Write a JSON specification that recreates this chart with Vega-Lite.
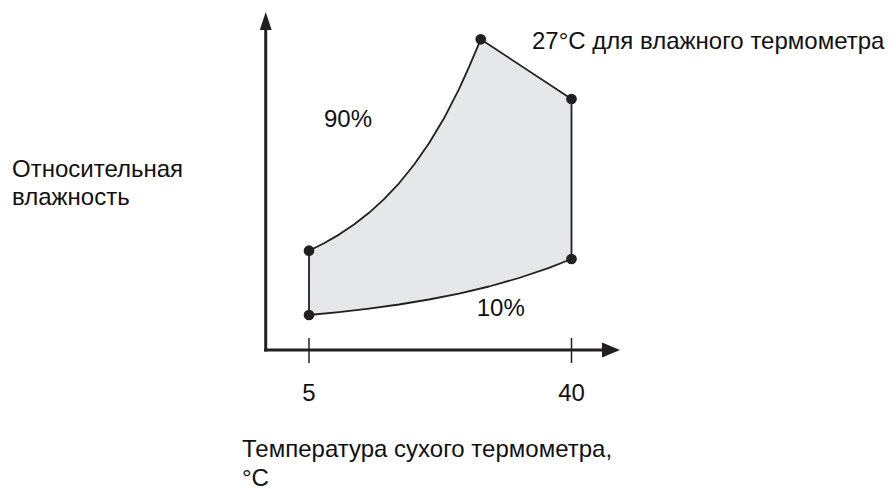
{
  "$schema": "https://vega.github.io/schema/vega-lite/v6.json",
  "width": 360,
  "height": 340,
  "autosize": {"type": "none"},
  "padding": {"left": 264, "top": 10, "right": 272, "bottom": 139},
  "background": "white",
  "config": {"view": {"stroke": null}, "text": {"font": "Liberation Sans", "fontSize": 24, "color": "#111111"}},
  "datasets": {
    "zone": [
      {"i": 0, "t": 5, "w": 3.5},
      {"i": 1, "t": 5, "w": 9.93},
      {"i": 2, "t": 7, "w": 10.67},
      {"i": 3, "t": 9, "w": 11.54},
      {"i": 4, "t": 11, "w": 12.55},
      {"i": 5, "t": 13, "w": 13.72},
      {"i": 6, "t": 15, "w": 15.09},
      {"i": 7, "t": 17, "w": 16.67},
      {"i": 8, "t": 19, "w": 18.52},
      {"i": 9, "t": 21, "w": 20.67},
      {"i": 10, "t": 23, "w": 23.17},
      {"i": 11, "t": 25, "w": 26.08},
      {"i": 12, "t": 26.33, "w": 28.28},
      {"i": 13, "t": 27.9, "w": 31.07},
      {"i": 14, "t": 40, "w": 25.1},
      {"i": 15, "t": 40, "w": 9.1},
      {"i": 16, "t": 37, "w": 8.22},
      {"i": 17, "t": 33, "w": 7.2},
      {"i": 18, "t": 29, "w": 6.35},
      {"i": 19, "t": 25, "w": 5.64},
      {"i": 20, "t": 21, "w": 5.05},
      {"i": 21, "t": 17, "w": 4.55},
      {"i": 22, "t": 13, "w": 4.14},
      {"i": 23, "t": 9, "w": 3.79},
      {"i": 24, "t": 5, "w": 3.5}
    ],
    "dots": [
      {"t": 5, "w": 3.5},
      {"t": 5, "w": 9.93},
      {"t": 27.9, "w": 31.07},
      {"t": 40, "w": 25.1},
      {"t": 40, "w": 9.1}
    ],
    "axes": [
      {"t": -0.77, "w": -0.15, "t2": -0.77, "w2": 32.2},
      {"t": -0.97, "w": 0, "t2": 44.2, "w2": 0}
    ],
    "ticks": [
      {"t": 5, "w": 1.2, "w2": -1.3},
      {"t": 40, "w": 1.2, "w2": -1.3}
    ],
    "arrowUp": [{"t": -0.77, "w": 33.8}],
    "arrowRight": [{"t": 46.47, "w": 0}],
    "centered": [
      {"t": 5, "w": -5.05, "label": "5"},
      {"t": 40, "w": -5.05, "label": "40"},
      {"t": 10.2, "w": 22.27, "label": "90%"},
      {"t": 30.56, "w": 3.4, "label": "10%"}
    ],
    "lefts": [
      {"t": 34.73, "w": 30.1, "label": "27°C для влажного термометра"},
      {"t": -34.6, "w": 17.27, "label": "Относительная"},
      {"t": -34.6, "w": 14.5, "label": "влажность"},
      {"t": -3.93, "w": -10.73, "label": "Температура сухого термометра,"},
      {"t": -3.93, "w": -13.55, "label": "°C"}
    ]
  },
  "encoding": {
    "x": {"field": "t", "type": "quantitative", "scale": {"domain": [-1, 47], "nice": false, "zero": false}, "axis": null},
    "y": {"field": "w", "type": "quantitative", "scale": {"domain": [0, 34], "nice": false, "zero": false}, "axis": null}
  },
  "layer": [
    {
      "data": {"name": "zone"},
      "mark": {"type": "line", "fill": "#e6e7e8", "stroke": "#231f20", "strokeWidth": 1.8, "interpolate": "linear", "strokeJoin": "round"},
      "encoding": {"order": {"field": "i", "type": "quantitative"}}
    },
    {
      "data": {"name": "axes"},
      "mark": {"type": "rule", "color": "#231f20", "strokeWidth": 3},
      "encoding": {
        "x2": {"field": "t2"},
        "y2": {"field": "w2"}
      }
    },
    {
      "data": {"name": "ticks"},
      "mark": {"type": "rule", "color": "#231f20", "strokeWidth": 1.5},
      "encoding": {"y2": {"field": "w2"}}
    },
    {
      "data": {"name": "arrowUp"},
      "mark": {"type": "point", "filled": true, "color": "#231f20", "opacity": 1, "size": 324, "shape": "M0,0L-0.66,2L0.66,2Z"}
    },
    {
      "data": {"name": "arrowRight"},
      "mark": {"type": "point", "filled": true, "color": "#231f20", "opacity": 1, "size": 324, "shape": "M0,0L-2,-0.82L-2,0.82Z"}
    },
    {
      "data": {"name": "dots"},
      "mark": {"type": "circle", "color": "#231f20", "opacity": 1, "size": 115}
    },
    {
      "data": {"name": "centered"},
      "mark": {"type": "text", "align": "center", "baseline": "alphabetic"},
      "encoding": {"text": {"field": "label"}}
    },
    {
      "data": {"name": "lefts"},
      "mark": {"type": "text", "align": "left", "baseline": "alphabetic"},
      "encoding": {"text": {"field": "label"}}
    }
  ]
}
